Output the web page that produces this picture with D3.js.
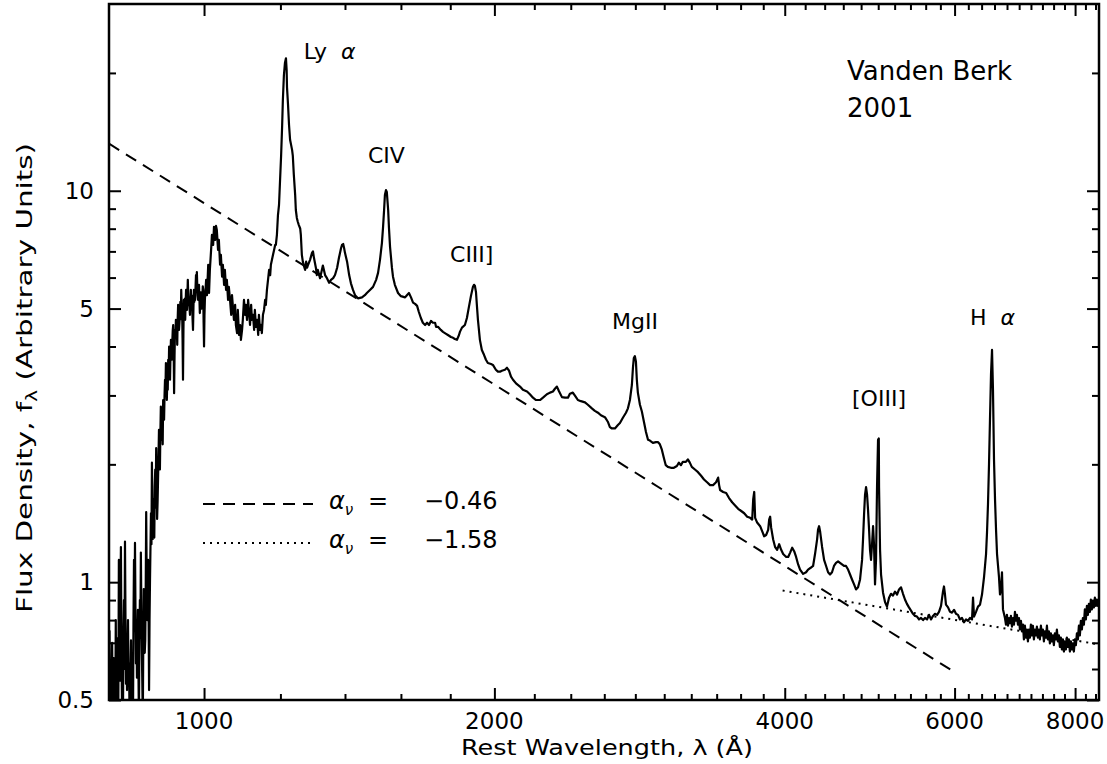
<!DOCTYPE html>
<html lang="en">
<head>
<meta charset="UTF-8">
<title>Composite quasar spectrum</title>
<script src="https://d3js.org/d3.v7.min.js"></script>
<style>
  body { margin: 0; background: #fff; }
  text { font-family: "DejaVu Sans", sans-serif; fill: #000; }
</style>
</head>
<body>
<script>
const WIDTH = 1107, HEIGHT = 764;
const LEFT = 109, RIGHT = 1099, TOP = 4, BOTTOM = 700;

// Ly-alpha forest part of the spectrum (rest wavelength in Angstrom, flux density)
const forestWave = [
  797, 798, 799, 800, 801, 803, 804, 806, 807, 808, 809, 810, 811, 812, 814, 815, 816, 817, 818, 819,
  820, 821, 822, 823, 824, 825, 826, 827, 828, 829, 830, 831, 832, 833, 834, 835, 836, 837, 838, 839,
  840, 841, 842, 843, 844, 845, 846, 847, 848, 849, 850, 851, 852, 853, 854, 855, 856, 857, 858, 859,
  860, 861, 862, 863, 864, 865, 866, 867, 868, 869, 870, 871, 872, 873, 874, 875, 876, 877, 878, 879,
  881, 882, 883, 884, 885, 886, 887, 888, 889, 890, 891, 892, 893, 894, 895, 896, 897, 898, 899, 900,
  901, 902, 903, 904, 905, 906, 907, 908, 909, 910, 911, 912, 913, 914, 915, 916, 917, 918, 919, 920,
  921, 922, 923, 924, 925, 926, 927, 928, 929, 930, 931, 932, 933, 934, 935, 936, 937, 938, 939, 940,
  941, 942, 943, 944, 945, 946, 947, 948, 949, 950, 951, 952, 953, 954, 955, 956, 957, 958, 959, 960,
  961, 962, 963, 964, 965, 966, 967, 968, 969, 970, 971, 972, 973, 974, 975, 976, 977, 978, 979, 980,
  981, 982, 983, 984, 985, 986, 987, 988, 989, 990, 991, 992, 993, 994, 995, 996, 997, 998, 999, 1000,
  1001, 1002
];
const forestFlux = [
  0.45, 0.75, 0.45, 0.62, 0.45, 0.70, 0.45, 0.64, 0.45, 0.58, 0.45, 0.80, 0.47, 0.45, 0.72, 0.50, 1.14, 0.60, 0.56, 0.90,
  1.23, 0.70, 0.50, 0.62, 0.45, 0.75, 0.90, 0.60, 1.27, 0.80, 0.55, 0.70, 0.53, 0.66, 0.80, 0.55, 0.62, 0.47, 0.45, 0.60,
  0.71, 0.52, 0.66, 0.48, 0.45, 0.80, 1.14, 0.75, 1.26, 0.85, 0.62, 0.75, 0.57, 0.70, 0.85, 0.60, 0.45, 0.70, 0.90, 0.72,
  1.19, 0.85, 0.67, 0.55, 0.45, 0.70, 0.96, 0.80, 0.66, 0.71, 0.95, 1.51, 1.05, 0.80, 0.95, 1.14, 0.85, 0.53, 0.80, 1.02,
  1.50, 1.25, 2.02, 1.60, 1.29, 1.45, 1.63, 1.30, 1.75, 1.94, 1.55, 2.2, 1.80, 1.45, 1.60, 1.83, 2.10, 2.45, 2.00, 1.94,
  2.40, 2.81, 2.45, 2.31, 2.60, 2.25, 2.92, 2.70, 2.60, 3.00, 3.29, 3.10, 3.63, 3.20, 2.92, 3.30, 3.10, 3.70, 3.40, 4.0,
  3.60, 3.29, 3.80, 4.16, 3.90, 3.70, 4.10, 4.40, 4.54, 4.00, 3.04, 3.80, 4.41, 4.20, 4.68, 4.30, 4.55, 4.04, 4.70, 5.11,
  4.70, 4.41, 4.60, 4.82, 5.20, 4.70, 5.58, 5.10, 4.96, 4.20, 3.29, 4.40, 5.26, 5.00, 5.30, 4.68, 5.20, 5.58, 5.20, 4.96,
  5.40, 5.92, 5.40, 5.10, 5.26, 5.00, 4.82, 5.30, 5.58, 5.20, 5.40, 5.11, 4.70, 4.41, 5.00, 5.58, 5.20, 5.40, 5.26, 5.70,
  6.09, 5.80, 6.20, 5.70, 5.40, 5.26, 5.50, 5.75, 5.30, 4.87, 5.10, 5.50, 5.41, 5.00, 5.11, 5.40, 5.70, 5.58, 4.60, 4.0,
  4.80, 5.26
];

// emission-line part of the spectrum, 1005 A onwards
const lineWaveData = [
  1005, 1007, 1010, 1012, 1014, 1017, 1019, 1022, 1024, 1027, 1029,
  1031, 1034, 1036, 1039, 1041, 1044, 1046, 1049, 1051, 1054, 1056, 1059, 1061, 1064, 1067, 1069, 1072, 1074, 1077, 1079,
  1082, 1084, 1087, 1090, 1092, 1095, 1097, 1100, 1103, 1105, 1108, 1111, 1113, 1116, 1119, 1121, 1124, 1127, 1129, 1132,
  1135, 1138, 1140, 1143, 1146, 1148, 1151, 1154, 1157, 1159, 1162, 1165, 1168, 1171, 1173, 1176, 1179, 1182, 1185, 1187,
  1190, 1193, 1196, 1199, 1202, 1205, 1207, 1210, 1213, 1216, 1218, 1219, 1222, 1225, 1228, 1231, 1234, 1236, 1239, 1243,
  1245, 1248, 1251, 1254, 1258, 1260, 1263, 1266, 1269, 1273, 1276, 1279, 1282, 1288, 1294, 1297, 1300, 1306, 1309, 1312,
  1319, 1325, 1328, 1335, 1341, 1348, 1354, 1361, 1367, 1374, 1380, 1387, 1390, 1394, 1397, 1400, 1407, 1414, 1420, 1427,
  1434, 1444, 1458, 1468, 1475, 1486, 1497, 1508, 1515, 1522, 1529, 1533, 1537, 1540, 1544, 1547, 1552, 1555, 1559, 1566,
  1570, 1577, 1589, 1600, 1616, 1623, 1631, 1639, 1647, 1655, 1663, 1670, 1678, 1686, 1695, 1703, 1711, 1719, 1727, 1736,
  1740, 1748, 1760, 1769, 1782, 1790, 1803, 1812, 1820, 1829, 1838, 1842, 1851, 1864, 1873, 1882, 1891, 1900, 1905, 1909,
  1914, 1918, 1923, 1932, 1941, 1951, 1960, 1969, 1984, 1993, 2007, 2017, 2027, 2036, 2051, 2061, 2071, 2081, 2091, 2106,
  2126, 2141, 2162, 2177, 2193, 2209, 2230, 2246, 2267, 2284, 2300, 2311, 2322, 2333, 2350, 2367, 2384, 2395, 2412, 2430,
  2441, 2459, 2483, 2500, 2524, 2542, 2561, 2579, 2604, 2622, 2635, 2648, 2667, 2686, 2699, 2718, 2738, 2751, 2764, 2777,
  2784, 2790, 2797, 2804, 2810, 2817, 2831, 2844, 2858, 2872, 2886, 2899, 2920, 2941, 2955, 2969, 2983, 2997, 3011, 3026,
  3048, 3070, 3092, 3107, 3122, 3136, 3159, 3174, 3189, 3204, 3228, 3252, 3276, 3299, 3323, 3347, 3371, 3395, 3412, 3420,
  3428, 3453, 3478, 3502, 3528, 3553, 3579, 3605, 3631, 3657, 3683, 3701, 3710, 3719, 3727, 3745, 3772, 3790, 3808, 3826,
  3845, 3854, 3863, 3872, 3891, 3909, 3928, 3947, 3966, 3985, 4014, 4033, 4052, 4072, 4091, 4110, 4130, 4149, 4179, 4209,
  4229, 4259, 4280, 4300, 4321, 4331, 4342, 4352, 4373, 4394, 4415, 4436, 4457, 4478, 4499, 4521, 4543, 4564, 4586, 4608,
  4630, 4653, 4675, 4697, 4720, 4742, 4765, 4788, 4811, 4822, 4834, 4845, 4857, 4869, 4880, 4892, 4903, 4915, 4927, 4939,
  4950, 4962, 4974, 4986, 4998, 5007, 5010, 5022, 5034, 5058, 5082, 5106, 5131, 5155, 5180, 5205, 5230, 5255, 5280, 5305,
  5330, 5355, 5381, 5407, 5433, 5459, 5485, 5512, 5538, 5565, 5591, 5618, 5645, 5672, 5699, 5726, 5754, 5781, 5809, 5836,
  5850, 5864, 5878, 5907, 5935, 5963, 5992, 6020, 6049, 6078, 6107, 6136, 6166, 6195, 6225, 6255, 6270, 6285, 6315, 6345,
  6375, 6406, 6437, 6468, 6483, 6498, 6514, 6529, 6545, 6561, 6576, 6592, 6608, 6624, 6640, 6671, 6687, 6703, 6719, 6735,
  6767, 6783, 6799, 6816, 6832, 6848, 6864, 6881, 6897, 6914, 6930, 6947, 6963, 6980, 6997, 7013, 7030, 7047, 7064, 7080,
  7097, 7114, 7131, 7148, 7165, 7182, 7199, 7216, 7234, 7251, 7268, 7286, 7303, 7320, 7338, 7355, 7373, 7391, 7408, 7426,
  7444, 7462, 7480, 7497, 7515, 7533, 7551, 7569, 7587, 7605, 7623, 7642, 7660, 7678, 7697, 7715, 7733, 7752, 7770, 7789,
  7807, 7826, 7845, 7864, 7882, 7901, 7920, 7939, 7958, 7977, 7996, 8015, 8035, 8054, 8073, 8092, 8111, 8131, 8150, 8170,
  8189, 8209, 8229, 8248, 8268, 8287, 8307, 8327, 8347, 8367, 8387, 8407, 8427, 8447, 8467
];
const lineFluxData = [
  5.92, 5.41, 6.47, 5.48, 6.28, 7.06, 7.71, 7.27, 8.09, 7.49, 8.13,
  7.94, 7.06, 7.49, 6.47, 6.86, 6.03, 6.47, 5.75, 6.28, 5.58, 5.92, 5.26, 5.68, 5.26, 4.82, 5.41, 4.96, 4.68, 5.11, 4.54,
  4.33, 4.96, 4.28, 4.54, 4.16, 4.41, 4.68, 5.26, 4.82, 5.11, 4.68, 5.26, 4.96, 4.54, 5.11, 4.68, 4.82, 4.41, 4.96, 4.49,
  4.68, 4.28, 4.82, 4.41, 4.54, 4.33, 4.82, 4.96, 5.26, 5.11, 5.58, 5.92, 6.28, 6.09, 6.47, 6.66, 6.86, 7.06, 7.27, 7.27,
  7.71, 8.67, 9.20, 10.65, 12.3, 14.7, 17.0, 19.7, 21.2, 21.8, 20.3, 18.4, 16.6, 14.7, 13.5, 13.1, 12.7, 12.3, 11.0, 9.76,
  8.93, 8.52, 8.32, 8.17, 8.01, 7.71, 6.86, 6.59, 6.44, 6.28, 6.59, 6.36, 6.47, 6.66, 6.94, 7.0, 6.74, 6.36, 6.09, 6.28,
  5.98, 6.28, 6.44, 6.09, 5.98, 5.82, 5.92, 5.98, 6.09, 6.36, 6.74, 7.14, 7.27, 7.31, 7.14, 6.94, 6.59, 6.09, 5.80, 5.58,
  5.41, 5.31, 5.34, 5.41, 5.48, 5.58, 5.68, 5.92, 6.17, 6.66, 7.35, 8.04, 8.93, 9.76, 10.04, 9.93, 8.93, 8.04, 7.19, 6.36,
  6.03, 5.75, 5.48, 5.38, 5.34, 5.41, 5.48, 5.34, 5.18, 5.14, 5.08, 4.90, 4.73, 4.60, 4.54, 4.60, 4.54, 4.65, 4.60, 4.60,
  4.49, 4.49, 4.41, 4.36, 4.31, 4.28, 4.23, 4.21, 4.18, 4.16, 4.28, 4.36, 4.47, 4.54, 4.73, 5.05, 5.38, 5.68, 5.75, 5.72,
  5.51, 5.11, 4.68, 4.16, 3.92, 3.81, 3.70, 3.63, 3.61, 3.59, 3.49, 3.45, 3.45, 3.47, 3.49, 3.53, 3.47, 3.35, 3.29, 3.22,
  3.16, 3.10, 3.07, 3.02, 2.96, 2.92, 2.92, 2.96, 3.02, 3.05, 3.07, 3.12, 3.16, 3.08, 2.97, 2.96, 2.96, 3.03, 3.05, 2.97,
  2.92, 2.90, 2.88, 2.84, 2.78, 2.74, 2.71, 2.67, 2.64, 2.57, 2.49, 2.47, 2.47, 2.52, 2.55, 2.63, 2.71, 2.78, 2.92, 3.19,
  3.53, 3.74, 3.78, 3.66, 3.29, 3.05, 2.84, 2.73, 2.57, 2.42, 2.31, 2.30, 2.27, 2.28, 2.28, 2.25, 2.18, 2.08, 1.99, 1.97,
  1.96, 1.96, 1.98, 2.02, 1.99, 2.03, 2.03, 2.06, 2.02, 1.97, 1.94, 1.91, 1.87, 1.83, 1.80, 1.77, 1.77, 1.80, 1.85, 1.77,
  1.72, 1.70, 1.69, 1.64, 1.60, 1.57, 1.54, 1.52, 1.50, 1.47, 1.46, 1.445, 1.63, 1.70, 1.46, 1.42, 1.39, 1.35, 1.31, 1.32,
  1.36, 1.445, 1.47, 1.38, 1.285, 1.23, 1.21, 1.25, 1.21, 1.18, 1.16, 1.16, 1.19, 1.225, 1.20, 1.16, 1.11, 1.077, 1.05, 1.06,
  1.077, 1.09, 1.10, 1.18, 1.285, 1.363, 1.39, 1.35, 1.23, 1.14, 1.10, 1.06, 1.046, 1.06, 1.10, 1.12, 1.13, 1.12, 1.11, 1.10,
  1.10, 1.077, 1.046, 1.016, 0.987, 0.958, 0.970, 1.016, 1.14, 1.285, 1.49, 1.67, 1.75, 1.67, 1.53, 1.363, 1.21, 1.14, 1.25, 1.39,
  1.25, 0.987, 1.14, 1.75, 2.31, 2.33, 1.75, 1.21, 1.046, 0.94, 0.89, 0.866, 0.913, 0.934, 0.924, 0.946, 0.93, 0.958, 0.97, 0.934,
  0.903, 0.88, 0.862, 0.846, 0.83, 0.82, 0.817, 0.803, 0.81, 0.80, 0.81, 0.803, 0.825, 0.803, 0.82, 0.83, 0.825, 0.84, 0.87, 0.946,
  0.975, 0.93, 0.876, 0.862, 0.84, 0.836, 0.85, 0.83, 0.825, 0.803, 0.81, 0.79, 0.803, 0.797, 0.81, 0.803, 0.913, 0.817, 0.84, 0.866,
  0.876, 0.93, 1.03, 1.18, 1.34, 1.58, 2.0, 2.60, 3.39, 3.92, 3.10, 2.06, 1.63, 1.363, 1.18, 1.03, 0.93, 0.958, 1.06, 0.852,
  0.81, 0.779, 0.825, 0.774, 0.81, 0.786, 0.82, 0.77, 0.81, 0.779, 0.84, 0.797, 0.825, 0.779, 0.81, 0.757, 0.797, 0.749, 0.779, 0.714,
  0.774, 0.722, 0.757, 0.706, 0.757, 0.722, 0.779, 0.731, 0.774, 0.714, 0.757, 0.731, 0.77, 0.722, 0.757, 0.714, 0.774, 0.731, 0.757, 0.706,
  0.749, 0.722, 0.774, 0.714, 0.749, 0.698, 0.74, 0.706, 0.731, 0.69, 0.74, 0.714, 0.757, 0.706, 0.731, 0.683, 0.722, 0.673, 0.714, 0.665,
  0.706, 0.673, 0.722, 0.683, 0.714, 0.665, 0.706, 0.673, 0.698, 0.665, 0.714, 0.69, 0.74, 0.714, 0.774, 0.731, 0.797, 0.757, 0.81, 0.779,
  0.852, 0.803, 0.87, 0.825, 0.88, 0.84, 0.903, 0.852, 0.89, 0.862, 0.913, 0.87, 0.903, 0.87, 0.903
];

// power-law continuum fits: f_lambda ~ lambda^-(2 + alpha_nu)
const fitAlpha = [-0.46, -1.58];
const fitAnchor = [1000, 4000];
const fitNorm = [9.3, 0.95];
const fitFrom = [797, 3980];
const fitTo = [6000, 8470];
const fitLabel = ["\u22120.46", "\u22121.58"];
const fitDash = ["12,8", "2,5"];

// emission line labels
const lineName = ["Ly  α", "CIV", "CIII]", "MgII", "[OIII]", "H  α"];
const lineWave = [1269, 1479, 1799, 2648, 4697, 6225];
const lineFlux = [21.7, 11.8, 6.58, 4.44, 2.82, 4.54];

// axes ticks
const xMajor = [1000, 2000, 4000, 6000, 8000];
const xMinor = d3.range(1200, 8500, 200).filter(v => !xMajor.includes(v));
const yMajor = [0.5, 1, 5, 10];
const yMajorLabel = ["0.5", "1", "5", "10"];
const yMinor = [0.6, 0.7, 0.8, 0.9, 2, 3, 4, 6, 7, 8, 9, 20];

const x = d3.scaleLog().domain([797, 8470]).range([LEFT, RIGHT]);
const y = d3.scaleLog().domain([0.5, 30]).range([BOTTOM, TOP]);

const svg = d3.select("body").append("svg").attr("width", WIDTH).attr("height", HEIGHT);

svg.append("defs").append("clipPath").attr("id", "plot")
  .append("rect").attr("x", LEFT).attr("y", TOP).attr("width", RIGHT - LEFT).attr("height", BOTTOM - TOP);

// spectrum
const wave = forestWave.concat(lineWaveData);
const flux = forestFlux.concat(lineFluxData);
const spec = wave.map((w, i) => ({w: w, f: flux[i]}));
const line = d3.line().x(d => x(d.w)).y(d => y(d.f));
svg.append("path").datum(spec)
  .attr("clip-path", "url(#plot)")
  .attr("d", line)
  .attr("fill", "none").attr("stroke", "#000").attr("stroke-width", 2.2).attr("stroke-linejoin", "round");

// continuum fits
fitAlpha.forEach((a, i) => {
  const pl = w => fitNorm[i] * Math.pow(w / fitAnchor[i], -(2 + a));
  svg.append("path").datum([fitFrom[i], fitTo[i]])
    .attr("clip-path", "url(#plot)")
    .attr("d", d3.line().x(w => x(w)).y(w => y(pl(w))))
    .attr("fill", "none").attr("stroke", "#000").attr("stroke-width", 2)
    .attr("stroke-dasharray", fitDash[i]);
});

// ticks (inside, mirrored on all sides)
function tickAxis(axis, values, size, tx, ty) {
  const g = svg.append("g").attr("transform", `translate(${tx},${ty})`)
    .call(axis.tickValues(values).tickSize(size).tickFormat(""));
  g.select(".domain").remove();
  g.selectAll("line").attr("stroke", "#000").attr("stroke-width", 2);
}
tickAxis(d3.axisBottom(x), xMajor, -12, 0, BOTTOM);
tickAxis(d3.axisBottom(x), xMinor, -6, 0, BOTTOM);
tickAxis(d3.axisTop(x), xMajor, -12, 0, TOP);
tickAxis(d3.axisTop(x), xMinor, -6, 0, TOP);
tickAxis(d3.axisLeft(y), yMajor, -12, LEFT, 0);
tickAxis(d3.axisLeft(y), yMinor, -7, LEFT, 0);
tickAxis(d3.axisRight(y), yMajor, -12, RIGHT, 0);
tickAxis(d3.axisRight(y), yMinor, -7, RIGHT, 0);

svg.append("rect").attr("x", LEFT).attr("y", TOP)
  .attr("width", RIGHT - LEFT).attr("height", BOTTOM - TOP)
  .attr("fill", "none").attr("stroke", "#000").attr("stroke-width", 2.5);

// tick labels
svg.selectAll(".xlab").data(xMajor).join("text")
  .attr("x", d => x(d)).attr("y", 729)
  .attr("text-anchor", "middle").attr("font-size", 23)
  .text(d => d);
svg.selectAll(".ylab").data(yMajor).join("text")
  .attr("x", 94).attr("y", d => y(d)).attr("dy", "0.36em")
  .attr("text-anchor", "end").attr("font-size", 23)
  .text((d, i) => yMajorLabel[i]);

// axis titles
svg.append("text")
  .attr("x", (LEFT + RIGHT) / 2 + 3).attr("y", 755)
  .attr("text-anchor", "middle").attr("font-size", 22)
  .attr("textLength", 292).attr("lengthAdjust", "spacingAndGlyphs")
  .text("Rest Wavelength, \u03bb (\u00c5)");

const yt = svg.append("text")
  .attr("transform", "translate(32,378) rotate(-90)")
  .attr("text-anchor", "middle").attr("font-size", 22)
  .attr("textLength", 470).attr("lengthAdjust", "spacingAndGlyphs");
yt.append("tspan").text("Flux Density, f");
yt.append("tspan").attr("font-size", 15).attr("dy", 5).text("\u03bb");
yt.append("tspan").attr("dy", -5).text(" (Arbitrary Units)");

// emission line labels, alpha drawn in italics
lineName.forEach((name, i) => {
  const t = svg.append("text")
    .attr("x", x(lineWave[i])).attr("y", y(lineFlux[i]))
    .attr("font-size", 22);
  name.split(/(α)/).filter(s => s.length).forEach(part => {
    t.append("tspan")
      .attr("font-style", part === "α" ? "italic" : null)
      .text(part === "α" ? part : part.replace(/  $/, "\u00a0\u00a0"));
  });
});

// legend
const legendY = [504, 543];
fitAlpha.forEach((a, i) => {
  svg.append("line")
    .attr("x1", 203).attr("x2", 313).attr("y1", legendY[i]).attr("y2", legendY[i])
    .attr("stroke", "#000").attr("stroke-width", 2).attr("stroke-dasharray", fitDash[i]);
  const t = svg.append("text").attr("y", legendY[i] + 5).attr("font-size", 24);
  t.append("tspan").attr("x", 329).attr("font-style", "italic").text("\u03b1");
  t.append("tspan").attr("font-size", 15).attr("dy", 6).attr("font-style", "italic").text("\u03bd");
  t.append("tspan").attr("x", 368).attr("dy", -6).text("=");
  t.append("tspan").attr("x", 424).text(fitLabel[i]);
});

// citation
const cite = svg.append("text").attr("font-family", "Lato, sans-serif").attr("font-size", 26);
cite.append("tspan").attr("x", 847).attr("y", 80).text("Vanden Berk");
cite.append("tspan").attr("x", 847).attr("y", 117).text("2001");
</script>
</body>
</html>
